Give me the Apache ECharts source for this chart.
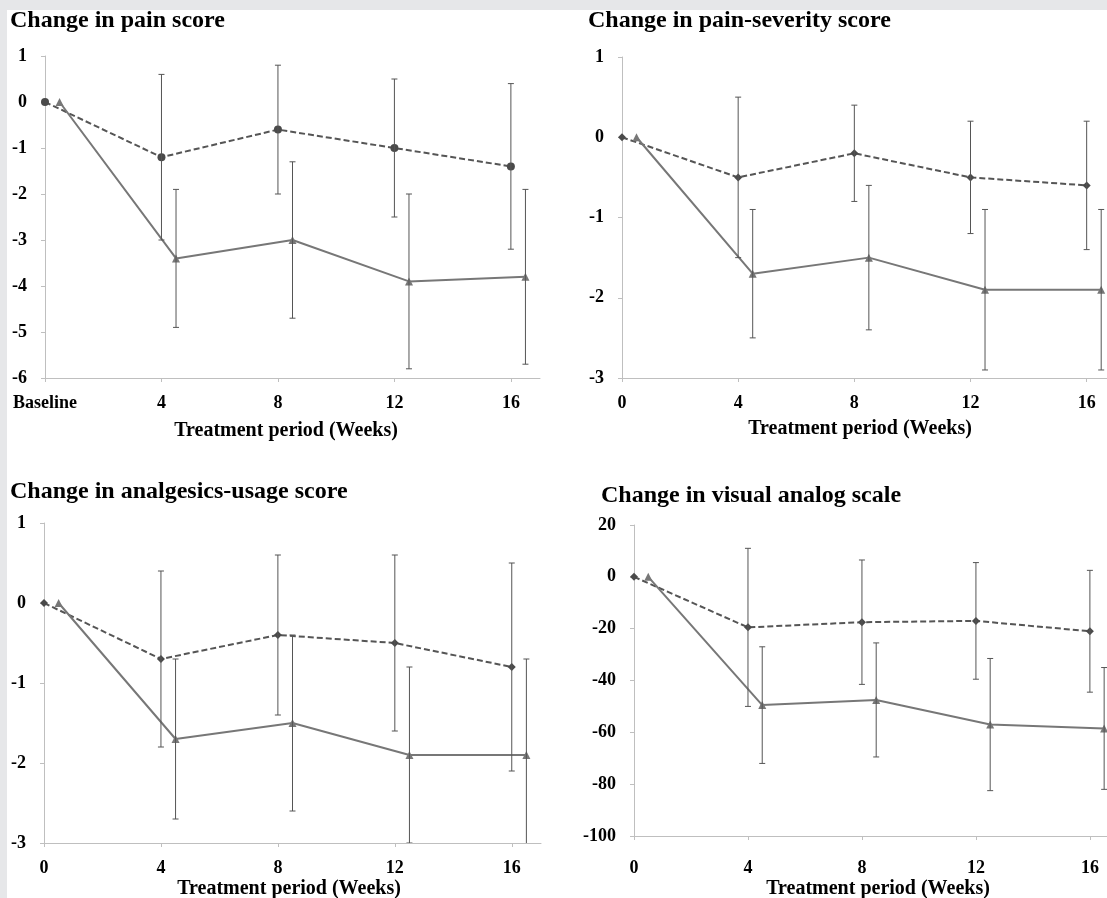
<!DOCTYPE html>
<html>
<head>
<meta charset="utf-8">
<script src="https://cdn.jsdelivr.net/npm/echarts@6/dist/echarts.min.js"></script>
<style>
html,body{margin:0;padding:0;background:#fff;}
#c{width:1107px;height:898px;}
</style>
</head>
<body>
<div id="c"></div>
<script>
// ---- data ----
const weeks = [0, 4, 8, 12, 16];
const solidOffset = 0.5; // solid-line group plotted half a week to the right
const titles = ['Change in pain score', 'Change in pain-severity score', 'Change in analgesics-usage score', 'Change in visual analog scale'];
const xName = 'Treatment period (Weeks)';

const painDashed = [0, -1.2, -0.6, -1.0, -1.4];
const painDashedErr = [0, 1.8, 1.4, 1.5, 1.8];
const painSolid = [0, -3.4, -3.0, -3.9, -3.8];
const painSolidErr = [0, 1.5, 1.7, 1.9, 1.9];

const sevDashed = [0, -0.5, -0.2, -0.5, -0.6];
const sevDashedErr = [0, 1.0, 0.6, 0.7, 0.8];
const sevSolid = [0, -1.7, -1.5, -1.9, -1.9];
const sevSolidErr = [0, 0.8, 0.9, 1.0, 1.0];

const anaDashed = [0, -0.7, -0.4, -0.5, -0.8];
const anaDashedErr = [0, 1.1, 1.0, 1.1, 1.3];
const anaSolid = [0, -1.7, -1.5, -1.9, -1.9];
const anaSolidErr = [0, 1.0, 1.1, 1.1, 1.2];

const vasDashed = [0, -19.5, -17.5, -17, -21];
const vasDashedErr = [0, 30.5, 24, 22.5, 23.5];
const vasSolid = [0, -49.5, -47.5, -57, -58.5];
const vasSolidErr = [0, 22.5, 22, 25.5, 23.5];

const yRanges = [[-6, 1, 1], [-3, 1, 1], [-3, 1, 1], [-100, 20, 20]];
const xMax = [17, 16.7, 17, 16.6];

// ---- layout ----
const grids = [
  {left: 45, top: 56, width: 495, height: 322},
  {left: 622, top: 57, width: 485, height: 321},
  {left: 44, top: 523, width: 497, height: 320},
  {left: 634, top: 525, width: 473, height: 311}
];
const titlePos = [[10, 9], [588, 9], [10, 480], [601, 484]];
const xNamePos = [[286, 431], [860, 429], [289, 889], [878, 889]];
const xLabelMargin = [16, 16, 16, 23];

const FONT = '"Liberation Serif", "Times New Roman", serif';
const LINE_DASHED = '#555555';
const LINE_SOLID = '#777777';
const ERR = '#555555';
const AXIS = '#bfbfbf';

const panels = [
  [painDashed, painDashedErr, painSolid, painSolidErr, 'circle', 'triangle'],
  [sevDashed, sevDashedErr, sevSolid, sevSolidErr, 'diamond', 'triangle'],
  [anaDashed, anaDashedErr, anaSolid, anaSolidErr, 'diamond', 'triangle'],
  [vasDashed, vasDashedErr, vasSolid, vasSolidErr, 'diamond', 'triangle']
];

function errRender(params, api) {
  const x = api.value(0), lo = api.value(1), hi = api.value(2);
  if (hi === lo) return null;
  const p1 = api.coord([x, hi]);
  const p2 = api.coord([x, lo]);
  const w = 3;
  const st = {stroke: ERR, lineWidth: 1};
  return {
    type: 'group',
    children: [
      {type: 'line', shape: {x1: p1[0], y1: p1[1], x2: p2[0], y2: p2[1]}, style: st},
      {type: 'line', shape: {x1: p1[0] - w, y1: p1[1], x2: p1[0] + w, y2: p1[1]}, style: st},
      {type: 'line', shape: {x1: p2[0] - w, y1: p2[1], x2: p2[0] + w, y2: p2[1]}, style: st}
    ]
  };
}

const option = {
  animation: false,
  backgroundColor: '#ffffff',
  title: titles.map((t, i) => ({
    text: t, left: titlePos[i][0], top: titlePos[i][1], padding: 0,
    textStyle: {fontFamily: FONT, fontWeight: 'bold', fontSize: 24, color: '#000'}
  })),
  grid: grids,
  xAxis: grids.map((g, i) => ({
    type: 'value', gridIndex: i, min: 0, max: xMax[i], interval: 4,
    axisLine: {show: true, onZero: false, lineStyle: {color: AXIS, width: 1}},
    axisTick: {show: true, length: 4, lineStyle: {color: AXIS}},
    splitLine: {show: false},
    axisLabel: {
      showMaxLabel: false,
      margin: xLabelMargin[i], fontFamily: FONT, fontWeight: 'bold', fontSize: 18, color: '#000',
      formatter: v => (v % 4 !== 0) ? '' : ((i === 0 && v === 0) ? 'Baseline' : String(v))
    }
  })),
  yAxis: grids.map((g, i) => ({
    type: 'value', gridIndex: i, min: yRanges[i][0], max: yRanges[i][1], interval: yRanges[i][2],
    axisLine: {show: true, onZero: false, lineStyle: {color: AXIS, width: 1}},
    axisTick: {show: true, length: 4, lineStyle: {color: AXIS}},
    splitLine: {show: false},
    axisLabel: {margin: 18, fontFamily: FONT, fontWeight: 'bold', fontSize: 18, color: '#000'}
  })),
  graphic: [
    {type: 'rect', left: 0, top: 0, shape: {width: 1107, height: 10}, style: {fill: '#e6e7e9'}, z: 100},
    {type: 'rect', left: 0, top: 0, shape: {width: 7, height: 898}, style: {fill: '#e6e7e9'}, z: 100}
  ].concat(xNamePos.map(p => ({
    type: 'text', x: p[0], y: p[1],
    style: {text: xName, fontFamily: FONT, fontWeight: 'bold', fontSize: 20, fill: '#000', align: 'center', verticalAlign: 'middle'}
  }))),
  series: []
};

panels.forEach((p, i) => {
  const [dm, de, sm, se, dSym, sSym] = p;
  option.series.push({
    type: 'line', xAxisIndex: i, yAxisIndex: i,
    data: weeks.map((w, k) => [w, dm[k]]),
    symbol: dSym, symbolSize: 8, showSymbol: true,
    lineStyle: {color: LINE_DASHED, width: 2, type: [6, 3]},
    itemStyle: {color: '#4a4a4a'}, z: 3
  });
  option.series.push({
    type: 'line', xAxisIndex: i, yAxisIndex: i,
    data: weeks.map((w, k) => [w + solidOffset, sm[k]]),
    symbol: sSym, symbolSize: 8, showSymbol: true,
    lineStyle: {color: LINE_SOLID, width: 2},
    itemStyle: {color: '#777777'}, z: 3
  });
  option.series.push({
    type: 'custom', xAxisIndex: i, yAxisIndex: i, clip: true,
    data: weeks.map((w, k) => [w, dm[k] - de[k], dm[k] + de[k]]),
    renderItem: errRender, z: 4
  });
  option.series.push({
    type: 'custom', xAxisIndex: i, yAxisIndex: i, clip: true,
    data: weeks.map((w, k) => [w + solidOffset, sm[k] - se[k], sm[k] + se[k]]),
    renderItem: errRender, z: 4
  });
});

const chart = echarts.init(document.getElementById('c'), null, {renderer: 'canvas'});
chart.setOption(option);
</script>
</body>
</html>
